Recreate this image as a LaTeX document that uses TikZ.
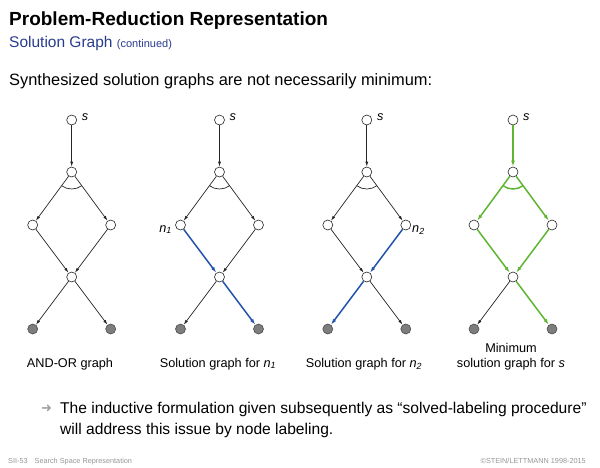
\documentclass[tikz,border=0pt]{standalone}
\usepackage{fontspec}
\setmainfont{Liberation Sans}
\newfontfamily\symfont{DejaVu Sans}
\usetikzlibrary{arrows.meta}
\definecolor{edgeblue}{RGB}{35,85,170}
\definecolor{edgegreen}{RGB}{95,180,50}
\definecolor{subblue}{RGB}{40,60,140}
\definecolor{leafgray}{RGB}{125,125,125}
\definecolor{footgray}{RGB}{150,150,150}
\definecolor{bulletgray}{RGB}{160,160,160}
\tikzset{
  onode/.style={circle,draw=black!85,line width=0.6pt,fill=white,minimum size=10pt,inner sep=0pt},
  leaf/.style={circle,draw=black!70,line width=0.6pt,fill=leafgray,minimum size=10pt,inner sep=0pt},
  plain/.style={draw=black!85,line width=0.7pt,-{Latex[length=5pt,width=3pt]}},
  bluee/.style={draw=edgeblue,line width=1.5pt,-{Latex[length=6pt,width=3.8pt]}},
  greene/.style={draw=edgegreen,line width=1.5pt,-{Latex[length=6pt,width=3.8pt]}},
  plainarc/.style={draw=black!85,line width=0.7pt},
  greenarc/.style={draw=edgegreen,line width=1.5pt},
  caption/.style={font=\fontsize{12.7}{15}\selectfont,inner sep=0pt,align=center},
  nlabel/.style={font=\fontsize{12.7}{15}\selectfont\itshape,inner sep=0pt},
}
% #1 prefix, #2 x, #3 s->A, #4 A->L, #5 A->R, #6 L->B, #7 R->B, #8 B->LL, #9 B->RL
\newcommand\andorgraph[9]{%
  \node[onode] (#1s) at (#2,120) {};
  \node[onode] (#1a) at (#2,172) {};
  \node[onode] (#1l) at (#2-39,225) {};
  \node[onode] (#1r) at (#2+39,225) {};
  \node[onode] (#1b) at (#2,277) {};
  \node[leaf] (#1x) at (#2-39,329) {};
  \node[leaf] (#1y) at (#2+39,329) {};
  \node[nlabel,anchor=base west] (#1sl) at (#2+10,120) {s};
  \draw[#3] (#1s) -- (#1a);
  \draw[#4] (#1a) -- (#1l);
  \draw[#5] (#1a) -- (#1r);
  \draw[#6] (#1l) -- (#1b);
  \draw[#7] (#1r) -- (#1b);
  \draw[#8] (#1b) -- (#1x);
  \draw[#9] (#1b) -- (#1y);
}
\begin{document}
\begin{tikzpicture}[x=1pt,y=-1pt]
\useasboundingbox (0,0) rectangle (600,467);
% header
\node[anchor=base west,inner sep=0pt,font=\fontsize{19}{22}\selectfont\bfseries] (title) at (9,25) {Problem-Reduction Representation};
\node[anchor=base west,inner sep=0pt,font=\fontsize{15.5}{18}\selectfont,text=subblue] (sub) at (9,47) {Solution Graph \fontsize{11}{12}\selectfont(continued)};
\node[anchor=base west,inner sep=0pt,font=\fontsize{16.4}{20}\selectfont] (intro) at (9,85) {Synthesized solution graphs are not necessarily minimum:};
% graphs
\andorgraph{g1}{71.7}{plain}{plain}{plain}{plain}{plain}{plain}{plain}
\draw[plainarc] (g1a) ++(53.7:17) arc[start angle=53.7,end angle=126.3,radius=17];
\andorgraph{g2}{219.5}{plain}{plain}{plain}{bluee}{plain}{plain}{bluee}
\draw[plainarc] (g2a) ++(53.7:17) arc[start angle=53.7,end angle=126.3,radius=17];
\andorgraph{g3}{366.8}{plain}{plain}{plain}{plain}{bluee}{bluee}{plain}
\draw[plainarc] (g3a) ++(53.7:17) arc[start angle=53.7,end angle=126.3,radius=17];
\andorgraph{g4}{513}{greene}{greene}{greene}{greene}{greene}{plain}{greene}
\draw[greenarc] (g4a) ++(53.7:17) arc[start angle=53.7,end angle=126.3,radius=17];
% n labels
\node[nlabel,anchor=base east] (n1) at (172,232) {n\textsubscript{1}};
\node[nlabel,anchor=base west] (n2) at (412,232) {n\textsubscript{2}};
% captions
\node[caption,anchor=base] (c1) at (70,367) {AND-OR graph};
\node[caption,anchor=base] (c2) at (218,367) {Solution graph for {\itshape n}\textsubscript{\itshape 1}};
\node[caption,anchor=base] (c3) at (364,367) {Solution graph for {\itshape n}\textsubscript{\itshape 2}};
\node[caption,anchor=base] (c4a) at (511,352) {Minimum};
\node[caption,anchor=base] (c4b) at (511,367) {solution graph for {\itshape s}};
% bullet
\node[anchor=base west,inner sep=0pt,font=\symfont\fontsize{13}{15}\selectfont,text=bulletgray] (arrow) at (41,412) {➜};
\node[anchor=base west,inner sep=0pt,font=\fontsize{15.6}{19}\selectfont] (b1) at (60,413) {The inductive formulation given subsequently as “solved-labeling procedure”};
\node[anchor=base west,inner sep=0pt,font=\fontsize{15.6}{19}\selectfont] (b2) at (60,434) {will address this issue by node labeling.};
% footer
\node[anchor=base west,inner sep=0pt,font=\fontsize{7.3}{8}\selectfont,text=footgray] (f1) at (8,463) {SII-53\hspace{7pt}Search Space Representation};
\node[anchor=base east,inner sep=0pt,font=\fontsize{7.3}{8}\selectfont,text=footgray] (f2) at (586,463) {©STEIN/LETTMANN 1998-2015};
\end{tikzpicture}
\end{document}
